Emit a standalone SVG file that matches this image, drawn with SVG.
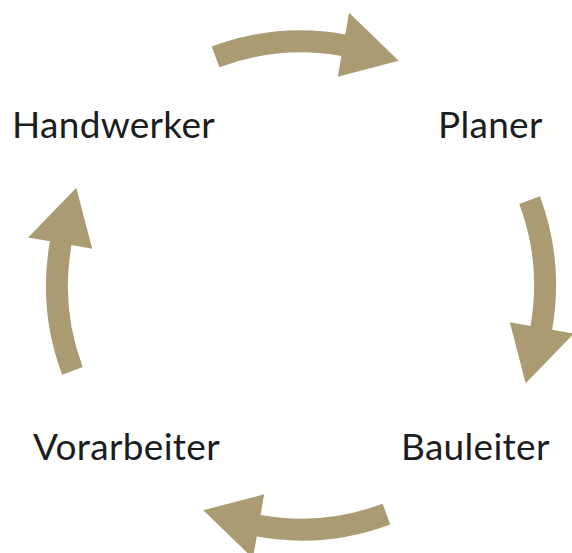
<svg xmlns="http://www.w3.org/2000/svg" width="572" height="553" viewBox="0 0 572 553">
  <style>
    .arrow { fill: #AA9B72; }
    .label { font-family: Lato, "Open Sans", "Liberation Sans", sans-serif; font-size: 37px; letter-spacing: 0.3px; fill: #1b1d1e; }
  </style>
  <defs>
    <!-- one curved arrow on a circle around the origin, tail at -110.5deg, tip at -66.5deg -->
    <path id="cycle-arrow" d="M -89.3 -238.9 A 255 255 0 0 1 44.28 -251.1 L 48.1 -272.8 L 97.7 -224.7 L 36.8 -208.8 L 40.46 -229.5 A 233 233 0 0 0 -81.6 -218.3 Z"/>
  </defs>
  <rect width="572" height="553" fill="#ffffff"/>
  <g id="connectors" class="arrow" transform="translate(301 285.5)">
    <use href="#cycle-arrow"/>
    <use href="#cycle-arrow" transform="rotate(90)"/>
    <use href="#cycle-arrow" transform="rotate(180)"/>
    <use href="#cycle-arrow" transform="rotate(270)"/>
  </g>
  <g id="handwerker"><text class="label" x="12" y="137.5">Handwerker</text></g>
  <g id="planer"><text class="label" x="438" y="137.5">Planer</text></g>
  <g id="bauleiter"><text class="label" x="401" y="460">Bauleiter</text></g>
  <g id="vorarbeiter"><text class="label" x="33" y="460">Vorarbeiter</text></g>
</svg>
